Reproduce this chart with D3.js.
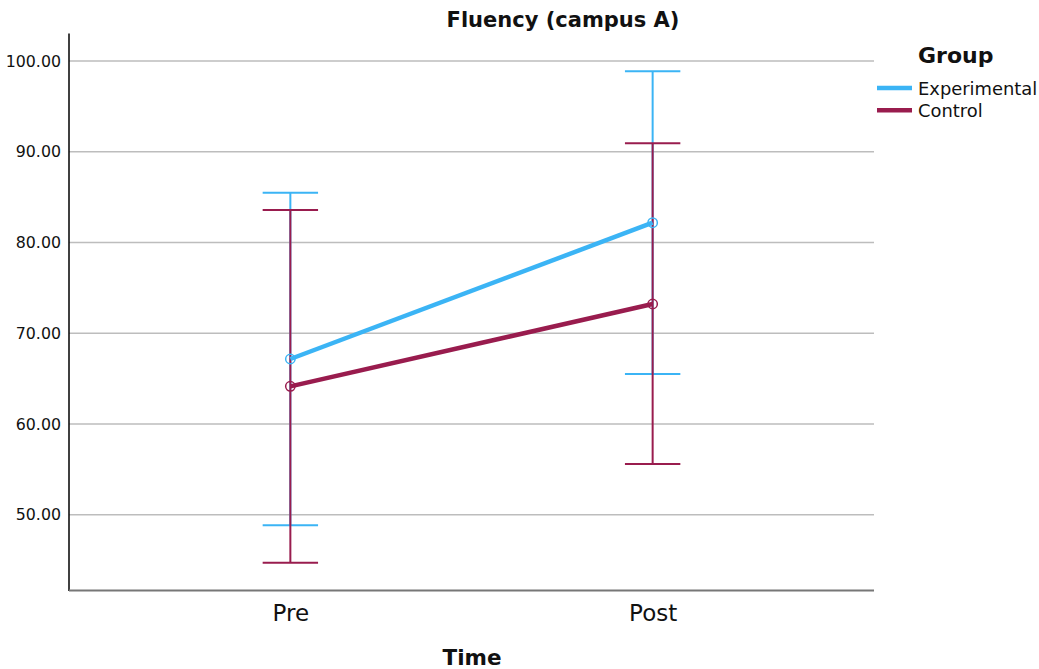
<!DOCTYPE html>
<html>
<head>
<meta charset="utf-8">
<script src="https://cdn.jsdelivr.net/npm/d3@7/dist/d3.min.js"></script>
<style>
  body { margin: 0; background: #fff; }
  svg text { font-family: "DejaVu Sans", sans-serif; fill: #111; }
</style>
</head>
<body>
<svg id="chart" width="1039" height="669"></svg>
<script>
// Time points on the x axis
const timePoints = ["Pre", "Post"];
// Group names and colours
const groups = ["Experimental", "Control"];
const groupColors = ["#3bb4f5", "#991c4e"];
// Mean fluency per group at each time point
const experimentalMean = [67.16, 82.18];
const controlMean = [64.15, 73.22];
// Error bar bounds (lower, upper)
const experimentalLow = [48.83, 65.51];
const experimentalHigh = [85.49, 98.86];
const controlLow = [44.71, 55.59];
const controlHigh = [83.58, 90.93];
// Y tick values
const yTicks = [50, 60, 70, 80, 90, 100];

const series = [
  { name: groups[0], color: groupColors[0], mean: experimentalMean, low: experimentalLow, high: experimentalHigh },
  { name: groups[1], color: groupColors[1], mean: controlMean, low: controlLow, high: controlHigh }
];

const svg = d3.select("#chart");
const plotLeft = 69, plotRight = 874, plotTop = 33.5, plotBottom = 590.5;

const x = d3.scalePoint().domain(timePoints).range([plotLeft, plotRight]).padding(0.611);
const y = d3.scaleLinear().domain([41.65, 103.03]).range([plotBottom, plotTop]);

// Horizontal grid lines
svg.append("g").selectAll("line").data(yTicks).join("line")
  .attr("x1", plotLeft).attr("x2", plotRight)
  .attr("y1", d => y(d)).attr("y2", d => y(d))
  .attr("stroke", "#bdbdbd").attr("stroke-width", 1.3);

// Y axis
const yAxis = svg.append("g").attr("transform", `translate(${plotLeft},0)`)
  .call(d3.axisLeft(y).tickValues(yTicks).tickFormat(d3.format(".2f")).tickSize(0).tickPadding(8));
yAxis.select(".domain").remove();
yAxis.selectAll("text").style("font-size", "15.8px").attr("fill", "#111");
svg.append("line").attr("x1", plotLeft).attr("x2", plotLeft).attr("y1", plotTop).attr("y2", plotBottom + 0.5)
  .attr("stroke", "#000").attr("stroke-width", 1.5);

// X axis
const xAxis = svg.append("g").attr("transform", `translate(0,${plotBottom})`)
  .call(d3.axisBottom(x).tickSize(0).tickPadding(14));
xAxis.select(".domain").remove();
xAxis.selectAll("text").style("font-size", "23px").attr("fill", "#111");
svg.append("line").attr("x1", plotLeft).attr("x2", plotRight).attr("y1", plotBottom).attr("y2", plotBottom)
  .attr("stroke", "#777").attr("stroke-width", 1.8);

// Error bars
const capHalf = 27.7;
series.forEach(s => {
  const g = svg.append("g");
  timePoints.forEach((t, i) => {
    const cx = x(t);
    g.append("line").attr("x1", cx).attr("x2", cx)
      .attr("y1", y(s.low[i])).attr("y2", y(s.high[i]))
      .attr("stroke", s.color).attr("stroke-width", 2);
    [s.low[i], s.high[i]].forEach(v => {
      g.append("line").attr("x1", cx - capHalf).attr("x2", cx + capHalf)
        .attr("y1", y(v)).attr("y2", y(v))
        .attr("stroke", s.color).attr("stroke-width", 2);
    });
  });
});

// Mean lines and markers
const line = d3.line().x((d, i) => x(timePoints[i])).y(d => y(d));
series.forEach(s => {
  svg.append("path").datum(s.mean).attr("d", line)
    .attr("fill", "none").attr("stroke", s.color).attr("stroke-width", 4.5);
  svg.append("g").selectAll("circle").data(s.mean).join("circle")
    .attr("cx", (d, i) => x(timePoints[i])).attr("cy", d => y(d)).attr("r", 4.7)
    .attr("fill", "none").attr("stroke", s.color).attr("stroke-width", 1.5);
});

// Titles
svg.append("text").attr("x", 563).attr("y", 27).attr("text-anchor", "middle")
  .style("font-size", "21px").style("font-weight", "bold").text("Fluency (campus A)");
svg.append("text").attr("x", 472).attr("y", 665).attr("text-anchor", "middle")
  .style("font-size", "21.5px").style("font-weight", "bold").text("Time");

// Legend
svg.append("text").attr("x", 918).attr("y", 63)
  .style("font-size", "22px").style("font-weight", "bold").text("Group");
series.forEach((s, i) => {
  const ly = 88 + i * 22.3;
  svg.append("line").attr("x1", 877).attr("x2", 912).attr("y1", ly).attr("y2", ly)
    .attr("stroke", s.color).attr("stroke-width", 4.5);
  svg.append("text").attr("x", 918).attr("y", ly + 7)
    .style("font-size", "17.9px").text(s.name);
});
</script>
</body>
</html>
